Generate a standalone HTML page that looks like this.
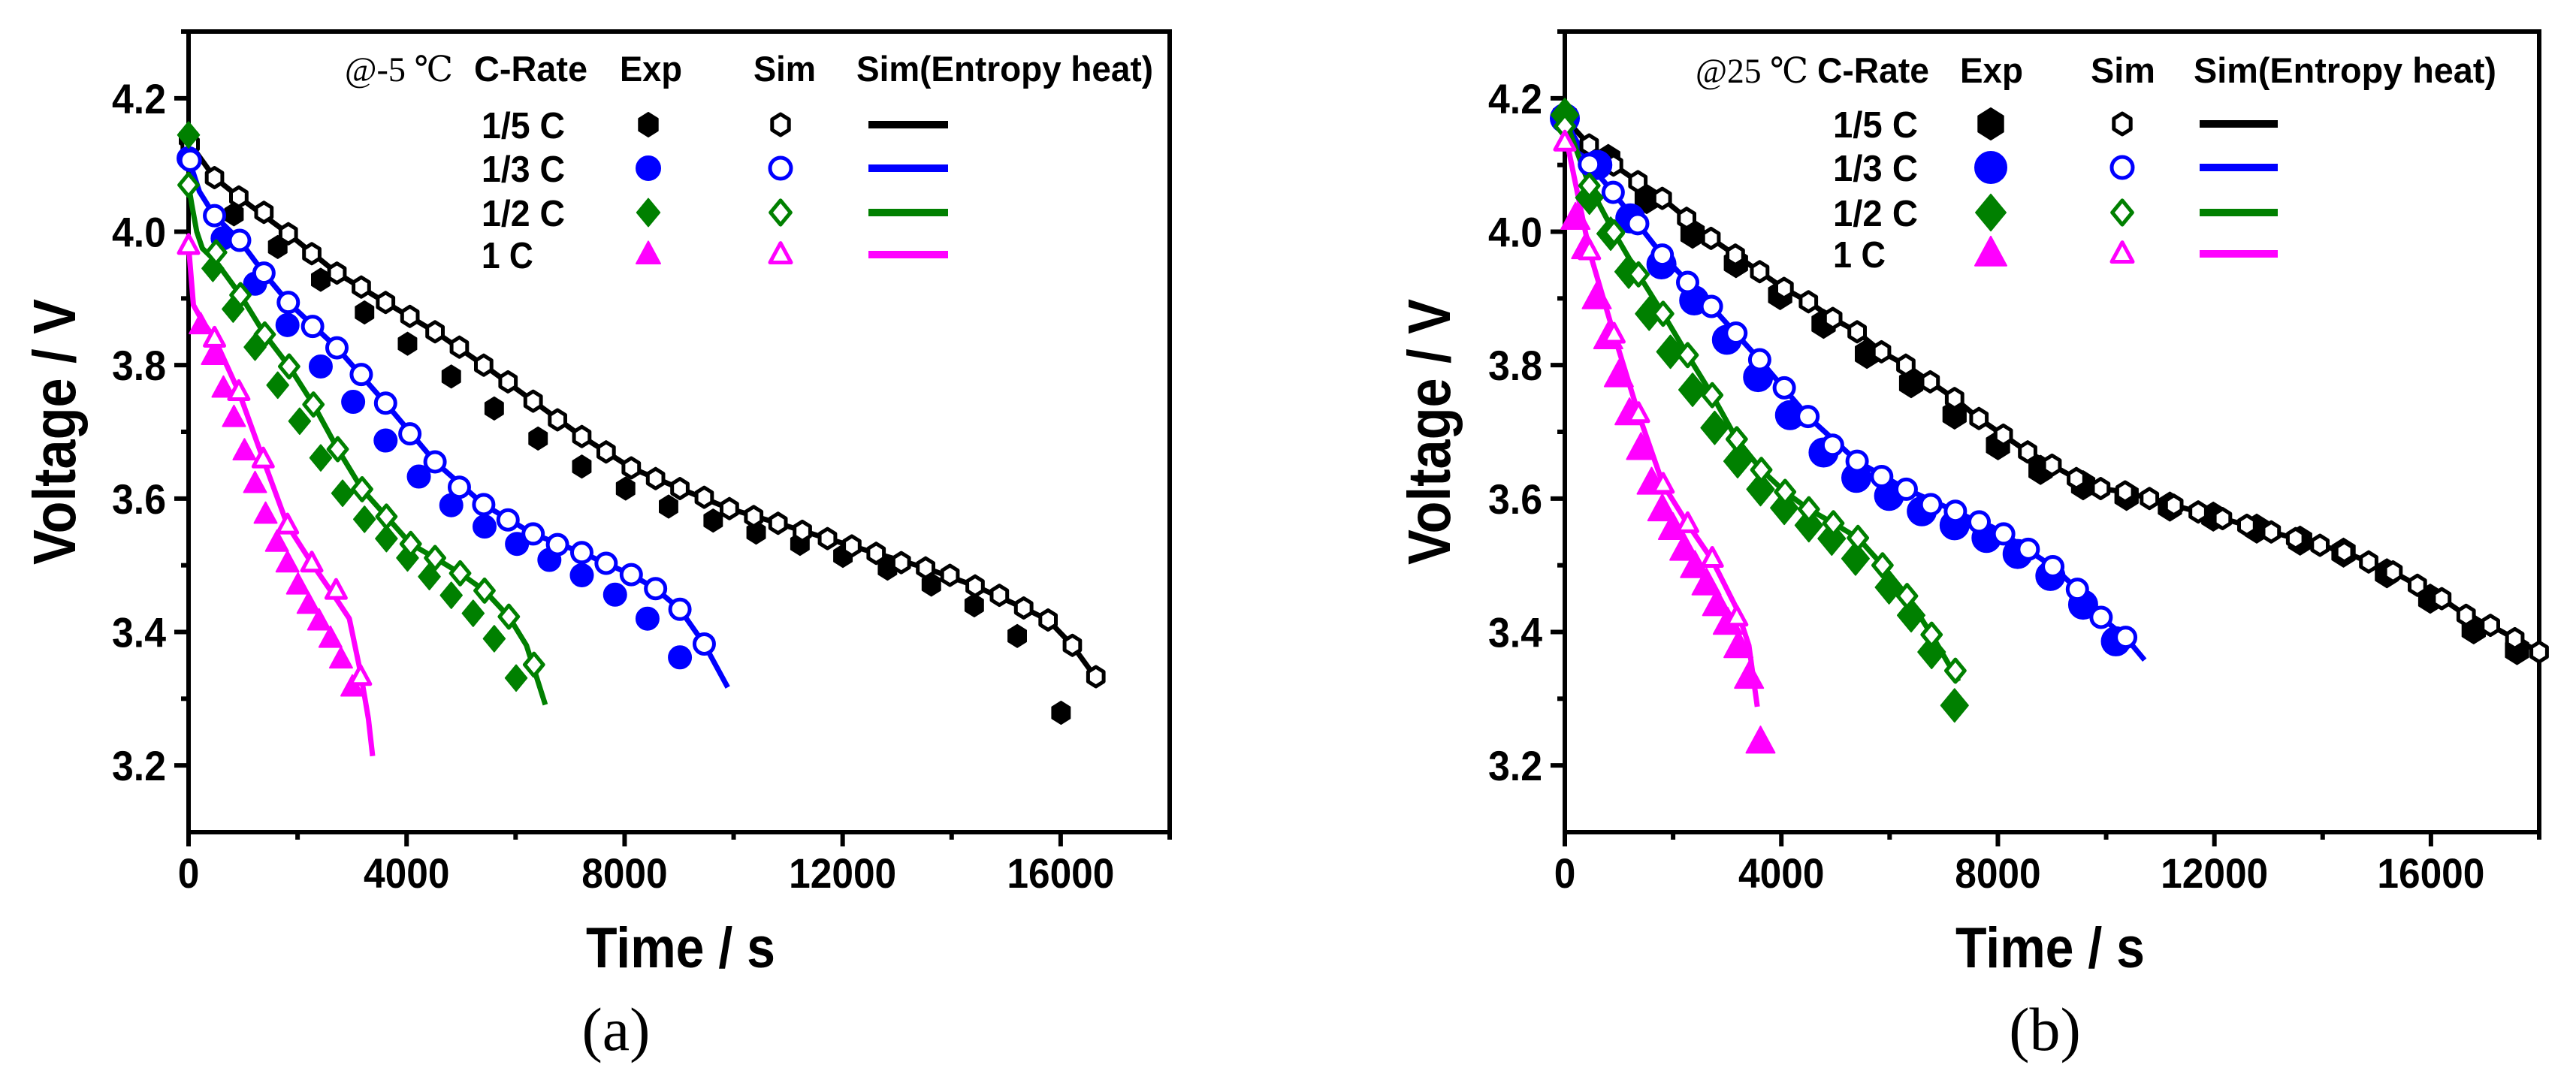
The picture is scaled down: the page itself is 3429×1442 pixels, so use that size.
<!DOCTYPE html>
<html><head><meta charset="utf-8">
<style>
html,body{margin:0;padding:0;background:#fff;}
svg{display:block;}
text{font-family:"Liberation Sans Narrow","Liberation Sans",sans-serif;font-weight:bold;}
.serif{font-family:"Liberation Serif","DejaVu Serif",serif;font-weight:normal;}
</style></head>
<body>
<svg id="chart" width="3429" height="1442" viewBox="0 0 3429 1442" xmlns="http://www.w3.org/2000/svg"></svg>
<script>
// ---------- shared axis data ----------
const xTicks = [0, 4000, 8000, 12000, 16000];
const yTicks = [3.2, 3.4, 3.6, 3.8, 4.0, 4.2];
const rateLabels = ["1/5 C", "1/3 C", "1/2 C", "1 C"];

// ---------- Panel (a) @-5 °C data ----------
const aExpT_c5 = [0,833,1636,2425,3228,4017,4820,5608,6412,7215,8018,8807,9625,10413,11217,12005,12823,13627,14415,15203,16007];
const aExpV_c5 = [4.14,4.026,3.977,3.928,3.879,3.832,3.783,3.735,3.690,3.648,3.615,3.588,3.567,3.549,3.532,3.514,3.495,3.471,3.440,3.394,3.279];
const aSimT_c5 = [30,476,922,1383,1830,2261,2722,3169,3615,4061,4522,4968,5415,5861,6322,6769,7215,7661,8122,8568,9015,9461,9922,10368,10815,11261,11722,12169,12615,13076,13522,13969,14430,14876,15322,15769,16215,16646];
const aSimV_c5 = [4.131,4.081,4.052,4.029,3.997,3.967,3.938,3.917,3.894,3.873,3.850,3.827,3.800,3.775,3.746,3.718,3.693,3.670,3.646,3.630,3.615,3.602,3.585,3.573,3.563,3.551,3.540,3.529,3.518,3.504,3.496,3.485,3.469,3.455,3.436,3.418,3.380,3.333];
const aLineT_c5 = [0,476,922,1830,2722,3615,4522,5415,6322,7215,8122,9015,9922,10815,11722,12615,13522,14430,15322,15769,16215,16700];
const aLineV_c5 = [4.135,4.081,4.052,3.997,3.938,3.894,3.850,3.800,3.746,3.693,3.646,3.615,3.585,3.563,3.540,3.518,3.496,3.469,3.436,3.418,3.380,3.325];

const aExpT_c3 = [0,625,1220,1815,2425,3020,3615,4225,4820,5430,6025,6620,7215,7825,8420,9015];
const aExpV_c3 = [4.11,3.990,3.922,3.860,3.798,3.745,3.687,3.633,3.590,3.558,3.532,3.508,3.485,3.456,3.420,3.362];
const aSimT_c3 = [30,476,937,1383,1830,2276,2722,3169,3615,4061,4522,4968,5415,5861,6322,6769,7215,7661,8122,8568,9015,9461];
const aSimV_c3 = [4.107,4.024,3.987,3.938,3.894,3.858,3.826,3.786,3.743,3.697,3.655,3.617,3.591,3.568,3.547,3.531,3.519,3.503,3.486,3.465,3.434,3.382];
const aLineT_c3 = [0,200,476,937,1383,1830,2722,3615,4522,5415,6322,7215,8122,8568,9015,9461,9892];
const aLineV_c3 = [4.11,4.06,4.024,3.987,3.938,3.894,3.826,3.743,3.655,3.591,3.547,3.519,3.486,3.465,3.434,3.382,3.317];

const aExpT_c2 = [0,446,818,1220,1636,2038,2425,2826,3228,3630,4017,4418,4820,5221,5608,6010];
const aExpV_c2 = [4.145,3.945,3.884,3.827,3.770,3.716,3.661,3.608,3.569,3.540,3.511,3.483,3.455,3.428,3.390,3.331];
const aSimT_c2 = [0,506,952,1398,1845,2291,2737,3184,3630,4076,4522,4983,5430,5876,6337];
const aSimV_c2 = [4.070,3.969,3.905,3.846,3.798,3.741,3.674,3.614,3.573,3.532,3.511,3.488,3.462,3.423,3.351];
const aLineT_c2 = [0,60,150,253,506,952,1398,1845,2291,2737,3184,3630,4076,4522,4983,5430,5876,6200,6545];
const aLineV_c2 = [4.07,4.04,4.00,3.975,3.955,3.905,3.846,3.798,3.741,3.674,3.614,3.573,3.532,3.511,3.488,3.462,3.423,3.380,3.291];

const aExpT_c1 = [223,446,640,833,1026,1220,1413,1622,1815,2008,2202,2395,2603,2797,3005];
const aExpV_c1 = [3.860,3.814,3.765,3.721,3.671,3.622,3.576,3.534,3.503,3.470,3.441,3.416,3.390,3.359,3.317];
const aSimT_c1 = [0,476,922,1369,1815,2261,2707,3154];
const aSimV_c1 = [3.979,3.840,3.760,3.659,3.560,3.503,3.462,3.333];
const aLineT_c1 = [0,90,253,476,922,1369,1815,2261,2707,2950,3154,3300,3377];
const aLineV_c1 = [3.979,3.890,3.866,3.840,3.760,3.659,3.560,3.503,3.450,3.420,3.340,3.270,3.214];

// ---------- Panel (b) @25 °C data ----------
const bExpT_c5 = [0,802,1513,2360,3161,3978,4780,5581,6398,7200,8002,8788,9575,10377,11178,11980,12782,13583,14385,15187,15988,16790,17591];
const bExpV_c5 = [4.173,4.109,4.049,3.997,3.953,3.905,3.862,3.817,3.773,3.726,3.680,3.643,3.620,3.604,3.588,3.573,3.555,3.537,3.519,3.488,3.450,3.404,3.373];
const bSimT_c5 = [0,450,900,1350,1800,2250,2700,3150,3600,4050,4500,4950,5400,5850,6300,6750,7200,7650,8100,8550,9000,9450,9900,10350,10800,11250,11700,12150,12600,13050,13500,13950,14400,14850,15300,15750,16200,16650,17100,17550,18000];
const bSimV_c5 = [4.17,4.13,4.10,4.075,4.05,4.02,3.99,3.965,3.94,3.915,3.895,3.87,3.85,3.82,3.80,3.775,3.75,3.72,3.695,3.67,3.65,3.63,3.615,3.61,3.60,3.59,3.58,3.57,3.56,3.55,3.54,3.53,3.52,3.505,3.49,3.47,3.45,3.425,3.41,3.39,3.37];

const bExpT_c3 = [0,600,1210,1785,2390,2995,3570,4160,4780,5385,5990,6595,7200,7790,8365,8970,9575,10180];
const bExpV_c3 = [4.17,4.10,4.020,3.951,3.897,3.838,3.782,3.725,3.669,3.631,3.604,3.581,3.560,3.541,3.517,3.484,3.441,3.386];
const bSimT_c3 = [0,454,893,1346,1800,2269,2708,3161,3600,4054,4492,4946,5400,5854,6307,6761,7215,7654,8107,8561,9015,9469,9907,10361];
const bSimV_c3 = [4.168,4.101,4.059,4.012,3.965,3.924,3.888,3.848,3.808,3.766,3.723,3.680,3.656,3.633,3.614,3.591,3.581,3.565,3.547,3.524,3.498,3.464,3.422,3.392];
const bLineT_c3 = [0,454,893,1346,1800,2708,3600,4492,5400,6307,7215,8107,9015,9469,9907,10361,10710];
const bLineV_c3 = [4.168,4.101,4.059,4.012,3.965,3.888,3.808,3.723,3.656,3.614,3.581,3.547,3.498,3.464,3.422,3.392,3.358];

const bExpT_c2 = [0,454,847,1180,1558,1951,2360,2768,3192,3615,4054,4508,4931,5370,5990,6398,6776,7200];
const bExpV_c2 = [4.175,4.051,3.997,3.940,3.877,3.820,3.763,3.706,3.656,3.614,3.586,3.560,3.540,3.510,3.467,3.425,3.370,3.290];
const bSimT_c2 = [0,454,908,1361,1815,2269,2723,3176,3630,4069,4508,4961,5415,5869,6322,6776,7215];
const bSimV_c2 = [4.158,4.069,3.999,3.936,3.877,3.815,3.755,3.689,3.643,3.610,3.584,3.563,3.541,3.500,3.454,3.396,3.342];
const bLineT_c2 = [0,454,908,1361,1815,2269,2723,3176,3630,4069,4508,4961,5415,5869,6322,6776,7275];
const bLineV_c2 = [4.170,4.069,3.999,3.936,3.877,3.815,3.755,3.689,3.643,3.610,3.584,3.563,3.541,3.500,3.454,3.396,3.326];

const bExpT_c1 = [197,393,590,802,998,1195,1407,1603,1800,1997,2208,2405,2617,2813,3010,3207,3403,3615];
const bExpV_c1 = [4.020,3.976,3.901,3.841,3.784,3.727,3.675,3.623,3.583,3.555,3.524,3.498,3.472,3.441,3.413,3.378,3.332,3.235];
const bSimT_c1 = [0,454,908,1361,1815,2269,2723,3176];
const bSimV_c1 = [4.134,3.971,3.846,3.727,3.621,3.562,3.510,3.422];
const bLineT_c1 = [0,454,908,1361,1815,2269,2723,3176,3400,3555];
const bLineV_c1 = [4.150,3.971,3.846,3.727,3.621,3.562,3.508,3.435,3.380,3.288];

const colors = ["#000000","#0000ff","#008000","#ff00ff"];
const shapes = ["hex","circle","diamond","tri"];

const NS = "http://www.w3.org/2000/svg";
const svg = document.getElementById("chart");
function mk(tag, attrs, parent){
  const e = document.createElementNS(NS, tag);
  for (const k in attrs) e.setAttribute(k, attrs[k]);
  (parent||svg).appendChild(e);
  return e;
}
function fit(el, len){
  el.setAttribute("textLength", len);
  el.setAttribute("lengthAdjust", "spacingAndGlyphs");
}
function numWidth(s){
  let w = 0;
  for (const ch of s) w += (ch === ".") ? 14 : 28.6;
  return w;
}
function shapePath(shape, cx, cy, r){
  if (shape === "hex"){
    let p = [];
    for (let i=0;i<6;i++){ const a = Math.PI/2 + i*Math.PI/3; p.push((cx+r*0.92*Math.cos(a)).toFixed(1)+","+(cy-r*Math.sin(a)).toFixed(1)); }
    return "M"+p.join("L")+"Z";
  }
  if (shape === "diamond") return `M${cx},${cy-r*1.15}L${cx+r*0.95},${cy}L${cx},${cy+r*1.15}L${cx-r*0.95},${cy}Z`;
  if (shape === "tri") return `M${cx},${cy-r*1.1}L${cx+r*1.0},${cy+r*0.75}L${cx-r*1.0},${cy+r*0.75}Z`;
  return `M${cx-r},${cy}a${r},${r} 0 1,0 ${2*r},0a${r},${r} 0 1,0 ${-2*r},0Z`;
}
function marker(g, shape, cx, cy, r, color, filled){
  return mk("path", {d: shapePath(shape,cx,cy,r), fill: filled?color:"#fff", stroke: color, "stroke-width": filled?2:5, "stroke-linejoin":"round"}, g);
}

function panel(cfg){
  const {L,R,T,B,id} = cfg;
  const xS = t => L + t/18000*(R-L);
  const yS = v => B - (v-3.1)/1.2*(B-T);
  const g = mk("g", {});
  
  
  const tg = mk("g", {}, g);
  
  
  for (let t=0;t<=18000;t+=2000){
    const major = (t%4000===0);
    mk("line",{x1:xS(t),x2:xS(t),y1:B,y2:B+(major?19:10),stroke:"#000","stroke-width":6},tg);
  }
  xTicks.forEach(t=>{
    const tx = mk("text",{x:xS(t),y:B+74,"text-anchor":"middle","font-size":56},tg);
    tx.textContent = t;
    fit(tx, numWidth(String(t)));
    
    
  });
  const yg = mk("g", {}, g);
  
  
  for (let k=0;k<12;k++){
    const v = 3.2 + k*0.1;
    const major = (k%2===0);
    mk("line",{x1:L,x2:L-(major?19:10),y1:yS(v),y2:yS(v),stroke:"#000","stroke-width":6},yg);
  }
  yTicks.forEach(v=>{
    const tx = mk("text",{x:L-30,y:yS(v)+20,"text-anchor":"end","font-size":56},yg);
    tx.textContent = v.toFixed(1);
    fit(tx, 72);
    
    
  });
  const fr = mk("rect",{x:L,y:T,width:R-L,height:B-T,fill:"none",stroke:"#000","stroke-width":6},g);
  
  
  const yt = mk("text",{x:0,y:0,"text-anchor":"middle","font-size":80,transform:`translate(${cfg.yTitleX},575) rotate(-90)`},g);
  yt.textContent = "Voltage / V";
  fit(yt, 354);
  
  
  const xt = mk("text",{x:cfg.xTitleX,y:1288,"text-anchor":"middle","font-size":76},g);
  xt.textContent = "Time / s";
  fit(xt, 252);
  
  
  const cap = mk("text",{x:cfg.capX,y:1398,"text-anchor":"middle","font-size":82,class:"serif"},g);
  cap.textContent = "("+id+")";
  
  

  cfg.series.forEach((s,i)=>{
    const sg = mk("g",{},g);
    
    
    const d = s.lt.map((t,j)=>(j?"L":"M")+xS(t).toFixed(1)+","+yS(s.lv[j]).toFixed(1)).join("");
    const ln = mk("path",{d:d,fill:"none",stroke:colors[i],"stroke-width":7,"stroke-linejoin":"round"},sg);
    
    
  });
  cfg.series.forEach((s,i)=>{
    const sg = mk("g",{},g);
    s.et.forEach((t,j)=>{
      const m = marker(sg, shapes[i], xS(t), yS(s.ev[j]), cfg.expR, colors[i], true);
      
      
    });
    s.st.forEach((t,j)=>{
      const m = marker(sg, shapes[i], xS(t), yS(s.sv[j]), cfg.simR, colors[i], false);
      
      
    });
  });

  const lg = mk("g",{},g);
  
  
  const lc = cfg.leg;
  lc.hdr.forEach(h=>{
    const tx = mk("text",{x:h[1],y:lc.hy,"font-size":47,class:h[3]},lg);
    if (h[3]) tx.setAttribute("font-weight","bold");
    tx.textContent = h[0];
    fit(tx, h[2]);
    
    
  });
  rateLabels.forEach((lab,i)=>{
    const y = lc.rows[i];
    const tx = mk("text",{x:lc.labX,y:y+18,"font-size":49},lg);
    tx.textContent = lab;
    fit(tx, i===3 ? lc.labW*0.62 : lc.labW);
    
    
    marker(lg, shapes[i], lc.expX, y, lc.er, colors[i], true);
    marker(lg, shapes[i], lc.simX, y, lc.sr, colors[i], false);
    mk("line",{x1:lc.l1,x2:lc.l2,y1:y,y2:y,stroke:colors[i],"stroke-width":10},lg);
  });
}

panel({id:"a", L:251, R:1557, T:42, B:1108, yTitleX:100, xTitleX:906, capX:820, expR:15, simR:13,
  series:[
    {et:aExpT_c5, ev:aExpV_c5, st:aSimT_c5, sv:aSimV_c5, lt:aLineT_c5, lv:aLineV_c5},
    {et:aExpT_c3, ev:aExpV_c3, st:aSimT_c3, sv:aSimV_c3, lt:aLineT_c3, lv:aLineV_c3},
    {et:aExpT_c2, ev:aExpV_c2, st:aSimT_c2, sv:aSimV_c2, lt:aLineT_c2, lv:aLineV_c2},
    {et:aExpT_c1, ev:aExpV_c1, st:aSimT_c1, sv:aSimV_c1, lt:aLineT_c1, lv:aLineV_c1}
  ],
  leg:{hy:108,
       hdr:[["@-5 ℃",459,144,"serif"],["C-Rate",631,151,""],["Exp",825,83,""],["Sim",1003,83,""],["Sim(Entropy heat)",1140,395,""]],
       rows:[166,224,283,339], labX:641, labW:111, expX:863, simX:1039, er:16, sr:14, l1:1156, l2:1262}
});
panel({id:"b", L:2083, R:3380, T:42, B:1108, yTitleX:1930, xTitleX:2729, capX:2722, expR:19, simR:13,
  series:[
    {et:bExpT_c5, ev:bExpV_c5, st:bSimT_c5, sv:bSimV_c5, lt:bSimT_c5, lv:bSimV_c5},
    {et:bExpT_c3, ev:bExpV_c3, st:bSimT_c3, sv:bSimV_c3, lt:bLineT_c3, lv:bLineV_c3},
    {et:bExpT_c2, ev:bExpV_c2, st:bSimT_c2, sv:bSimV_c2, lt:bLineT_c2, lv:bLineV_c2},
    {et:bExpT_c1, ev:bExpV_c1, st:bSimT_c1, sv:bSimV_c1, lt:bLineT_c1, lv:bLineV_c1}
  ],
  leg:{hy:110,
       hdr:[["@25 ℃",2257,150,"serif"],["C-Rate",2419,149,""],["Exp",2609,84,""],["Sim",2783,86,""],["Sim(Entropy heat)",2920,403,""]],
       rows:[165,223,283,338], labX:2440, labW:113, expX:2650, simX:2825, er:21, sr:14, l1:2928, l2:3032}
});
</script>
</body></html>
